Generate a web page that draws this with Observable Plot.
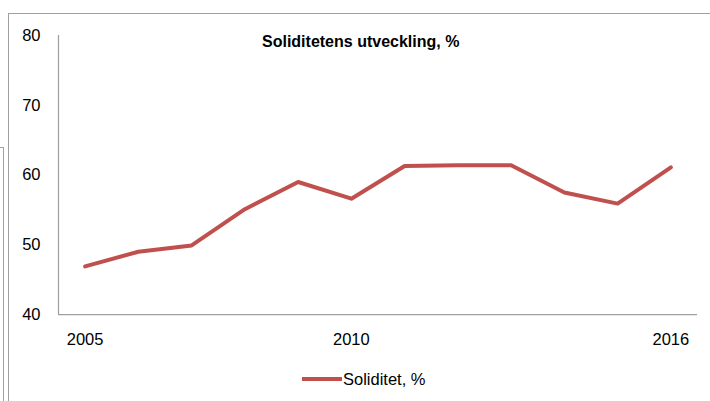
<!DOCTYPE html>
<html><head><meta charset="utf-8">
<script src="https://cdn.jsdelivr.net/npm/d3@7"></script>
<script src="https://cdn.jsdelivr.net/npm/@observablehq/plot@0.6"></script>
<style>
html,body{margin:0;padding:0;width:710px;height:401px;overflow:hidden;background:#fff;font-family:"Liberation Sans",Arial,sans-serif;}
#frame{position:absolute;left:8px;top:13px;width:760px;height:450px;border:1.5px solid #a0a0a0;box-sizing:border-box;}
#frame2{position:absolute;left:-20px;top:147px;width:23.5px;height:300px;border:1.5px solid #a0a0a0;box-sizing:border-box;}
#chart{position:absolute;left:0;top:0;}
#title{position:absolute;left:262px;top:33px;font-weight:bold;font-size:16px;color:#000;white-space:nowrap;}
#legend{position:absolute;left:302px;top:368px;height:22px;display:flex;align-items:center;font-size:16.5px;color:#000;}
#legend .sw{display:inline-block;width:40px;height:4px;background:#c0504d;margin-right:1px;}
</style></head><body>
<div id="frame2"></div><div id="frame"></div>
<div id="chart"></div>
<div id="title">Soliditetens utveckling, %</div>
<div id="legend"><span class="sw"></span><span>Soliditet, %</span></div>
<script>
const years = [2005, 2006, 2007, 2008, 2009, 2010, 2011, 2012, 2013, 2014, 2015, 2016];
const soliditet = [46.9, 49.0, 49.9, 55.1, 59.0, 56.6, 61.3, 61.4, 61.4, 57.5, 55.9, 61.1];
const yTicks = [40, 50, 60, 70, 80];
const xTicks = [2005, 2010, 2016];
const data = years.map((y, i) => ({year: y, value: soliditet[i]}));
const plot = Plot.plot({
  width: 710, height: 362,
  marginLeft: 58, marginRight: 13, marginTop: 35, marginBottom: 48,
  style: {background: "transparent", fontFamily: "'Liberation Sans', Arial, sans-serif", fontSize: "16.5px", color: "#000"},
  x: {domain: [2004.5, 2016.5], ticks: xTicks, tickFormat: d => String(d), tickSize: 0, tickPadding: 19, label: null},
  y: {domain: [40, 80], ticks: yTicks, tickSize: 0, tickPadding: 18, label: null},
  marks: [
    Plot.ruleX([2004.5], {stroke: "#a0a0a0", strokeWidth: 1.25}),
    Plot.ruleY([40], {stroke: "#a0a0a0", strokeWidth: 1.25}),
    Plot.line(data, {x: "year", y: "value", stroke: "#c0504d", strokeWidth: 4})
  ]
});
document.getElementById("chart").appendChild(plot);
</script>
</body></html>
